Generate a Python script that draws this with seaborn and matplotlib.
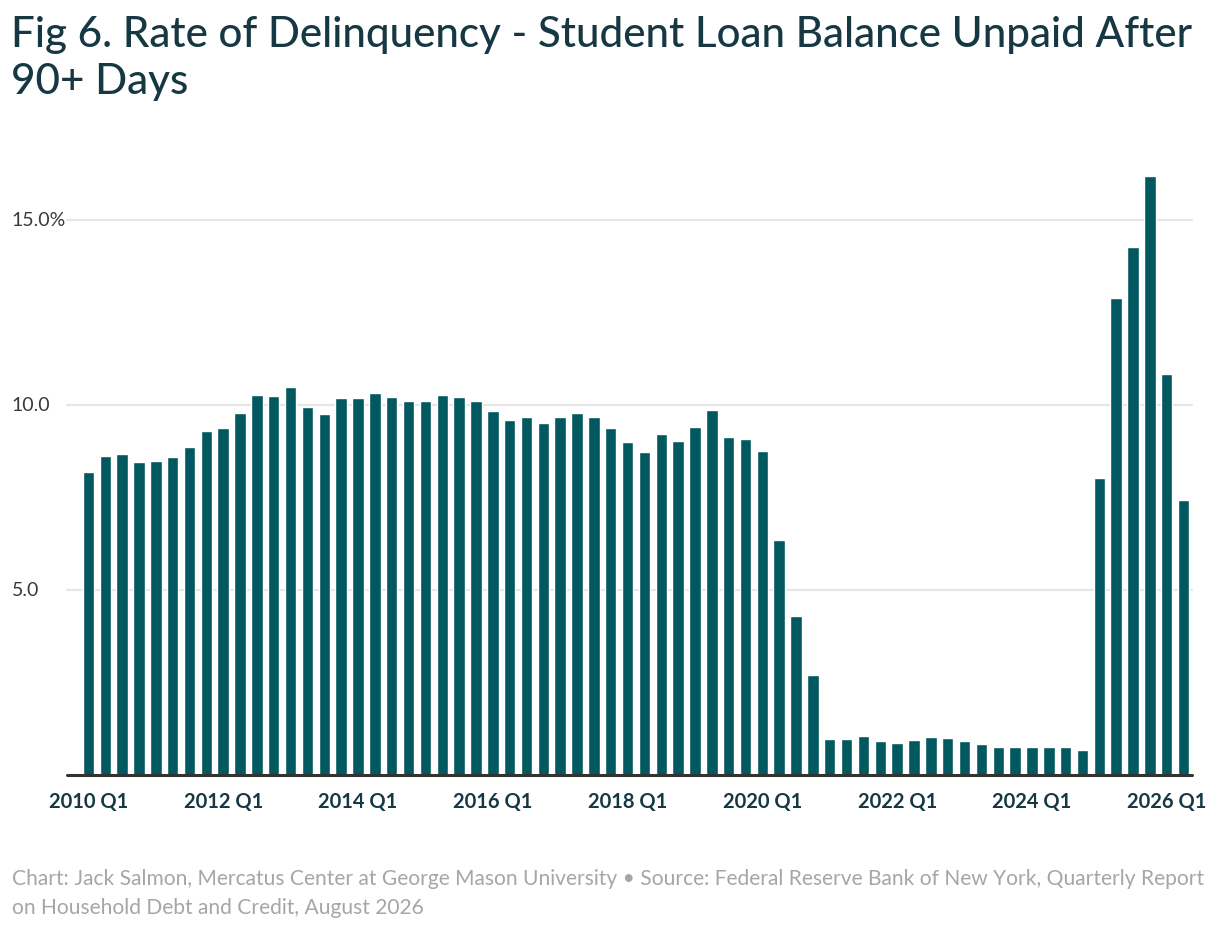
import matplotlib
matplotlib.use("Agg")
import matplotlib.pyplot as plt
import seaborn as sns
import pandas as pd

# ---- data ----
quarters = [f"{y} Q{q}" for y in range(2010, 2027) for q in range(1, 5)][:66]
delinquency = [
    8.19, 8.62, 8.68, 8.46, 8.49, 8.59, 8.86, 9.30, 9.38, 9.78,
    10.27, 10.24, 10.49, 9.95, 9.76, 10.19, 10.19, 10.32, 10.22, 10.11,
    10.11, 10.27, 10.22, 10.11, 9.84, 9.59, 9.68, 9.51, 9.68, 9.78,
    9.68, 9.38, 9.00, 8.73, 9.22, 9.03, 9.41, 9.86, 9.14, 9.08,
    8.76, 6.35, 4.30, 2.70, 0.97, 0.97, 1.05, 0.92, 0.86, 0.95,
    1.03, 1.00, 0.92, 0.84, 0.76, 0.76, 0.76, 0.76, 0.76, 0.68,
    8.03, 12.89, 14.27, 16.19, 10.84, 7.43,
]
y_ticks = [5.0, 10.0, 15.0]
y_tick_labels = ["5.0", "10.0", "15.0%"]
title = "Fig 6. Rate of Delinquency - Student Loan Balance Unpaid After\n90+ Days"
footer = ("Chart: Jack Salmon, Mercatus Center at George Mason University \u2022 Source: Federal Reserve Bank of New York, Quarterly Report\n"
          "on Household Debt and Credit, August 2026")

df = pd.DataFrame({"quarter": quarters, "rate": delinquency})

sns.set_theme(style="white")
plt.rcParams["font.family"] = ["Lato", "DejaVu Sans"]

BAR = "#01595f"
DARK = "#163843"

fig = plt.figure(figsize=(12.2, 9.3), dpi=100)
ax = fig.add_axes([80 / 1220, 1 - 775 / 930, 1112 / 1220, (775 - 164.5) / 930])

sns.barplot(data=df, x="quarter", y="rate", color=BAR, saturation=1,
            width=0.68, ax=ax, zorder=3)

ax.set_xlim(-0.5, len(quarters) - 0.5)
ax.set_ylim(0, 16.5)
for s in ax.spines.values():
    s.set_visible(False)

ext = -13 / 1112
for yv in y_ticks:
    ax.axhline(yv, xmin=ext, xmax=1.0, color="#e6e6e6", lw=1.6, zorder=1, clip_on=False)
ax.axhline(0, xmin=ext, xmax=1.0, color="#333333", lw=2.2, zorder=4, clip_on=False)

ax.set_yticks(y_ticks)
ax.set_yticklabels(y_tick_labels, fontsize=14, color="#3a3a3a", fontweight="normal")
ax.tick_params(axis="y", length=0, pad=49)
for lab in ax.get_yticklabels():
    lab.set_horizontalalignment("left")
    lab.set_verticalalignment("center")

xt = list(range(0, len(quarters), 8))
ax.set_xticks(xt)
ax.set_xticklabels([quarters[i] for i in xt], fontsize=14.5, color=DARK, fontweight="bold")
ax.tick_params(axis="x", length=0, pad=12)
ax.set_xlabel("")
ax.set_ylabel("")

fig.text(11 / 1220, 1 - 16 / 930, title, ha="left", va="top", fontsize=30.3,
         color=DARK, fontweight="medium", linespacing=1.28)
fig.text(12 / 1220, 1 - 869 / 930, footer, ha="left", va="top", fontsize=15.1,
         color="#a6a6a6", fontweight="normal", linespacing=1.55)

fig.savefig("out.png", dpi=100, facecolor="white")
